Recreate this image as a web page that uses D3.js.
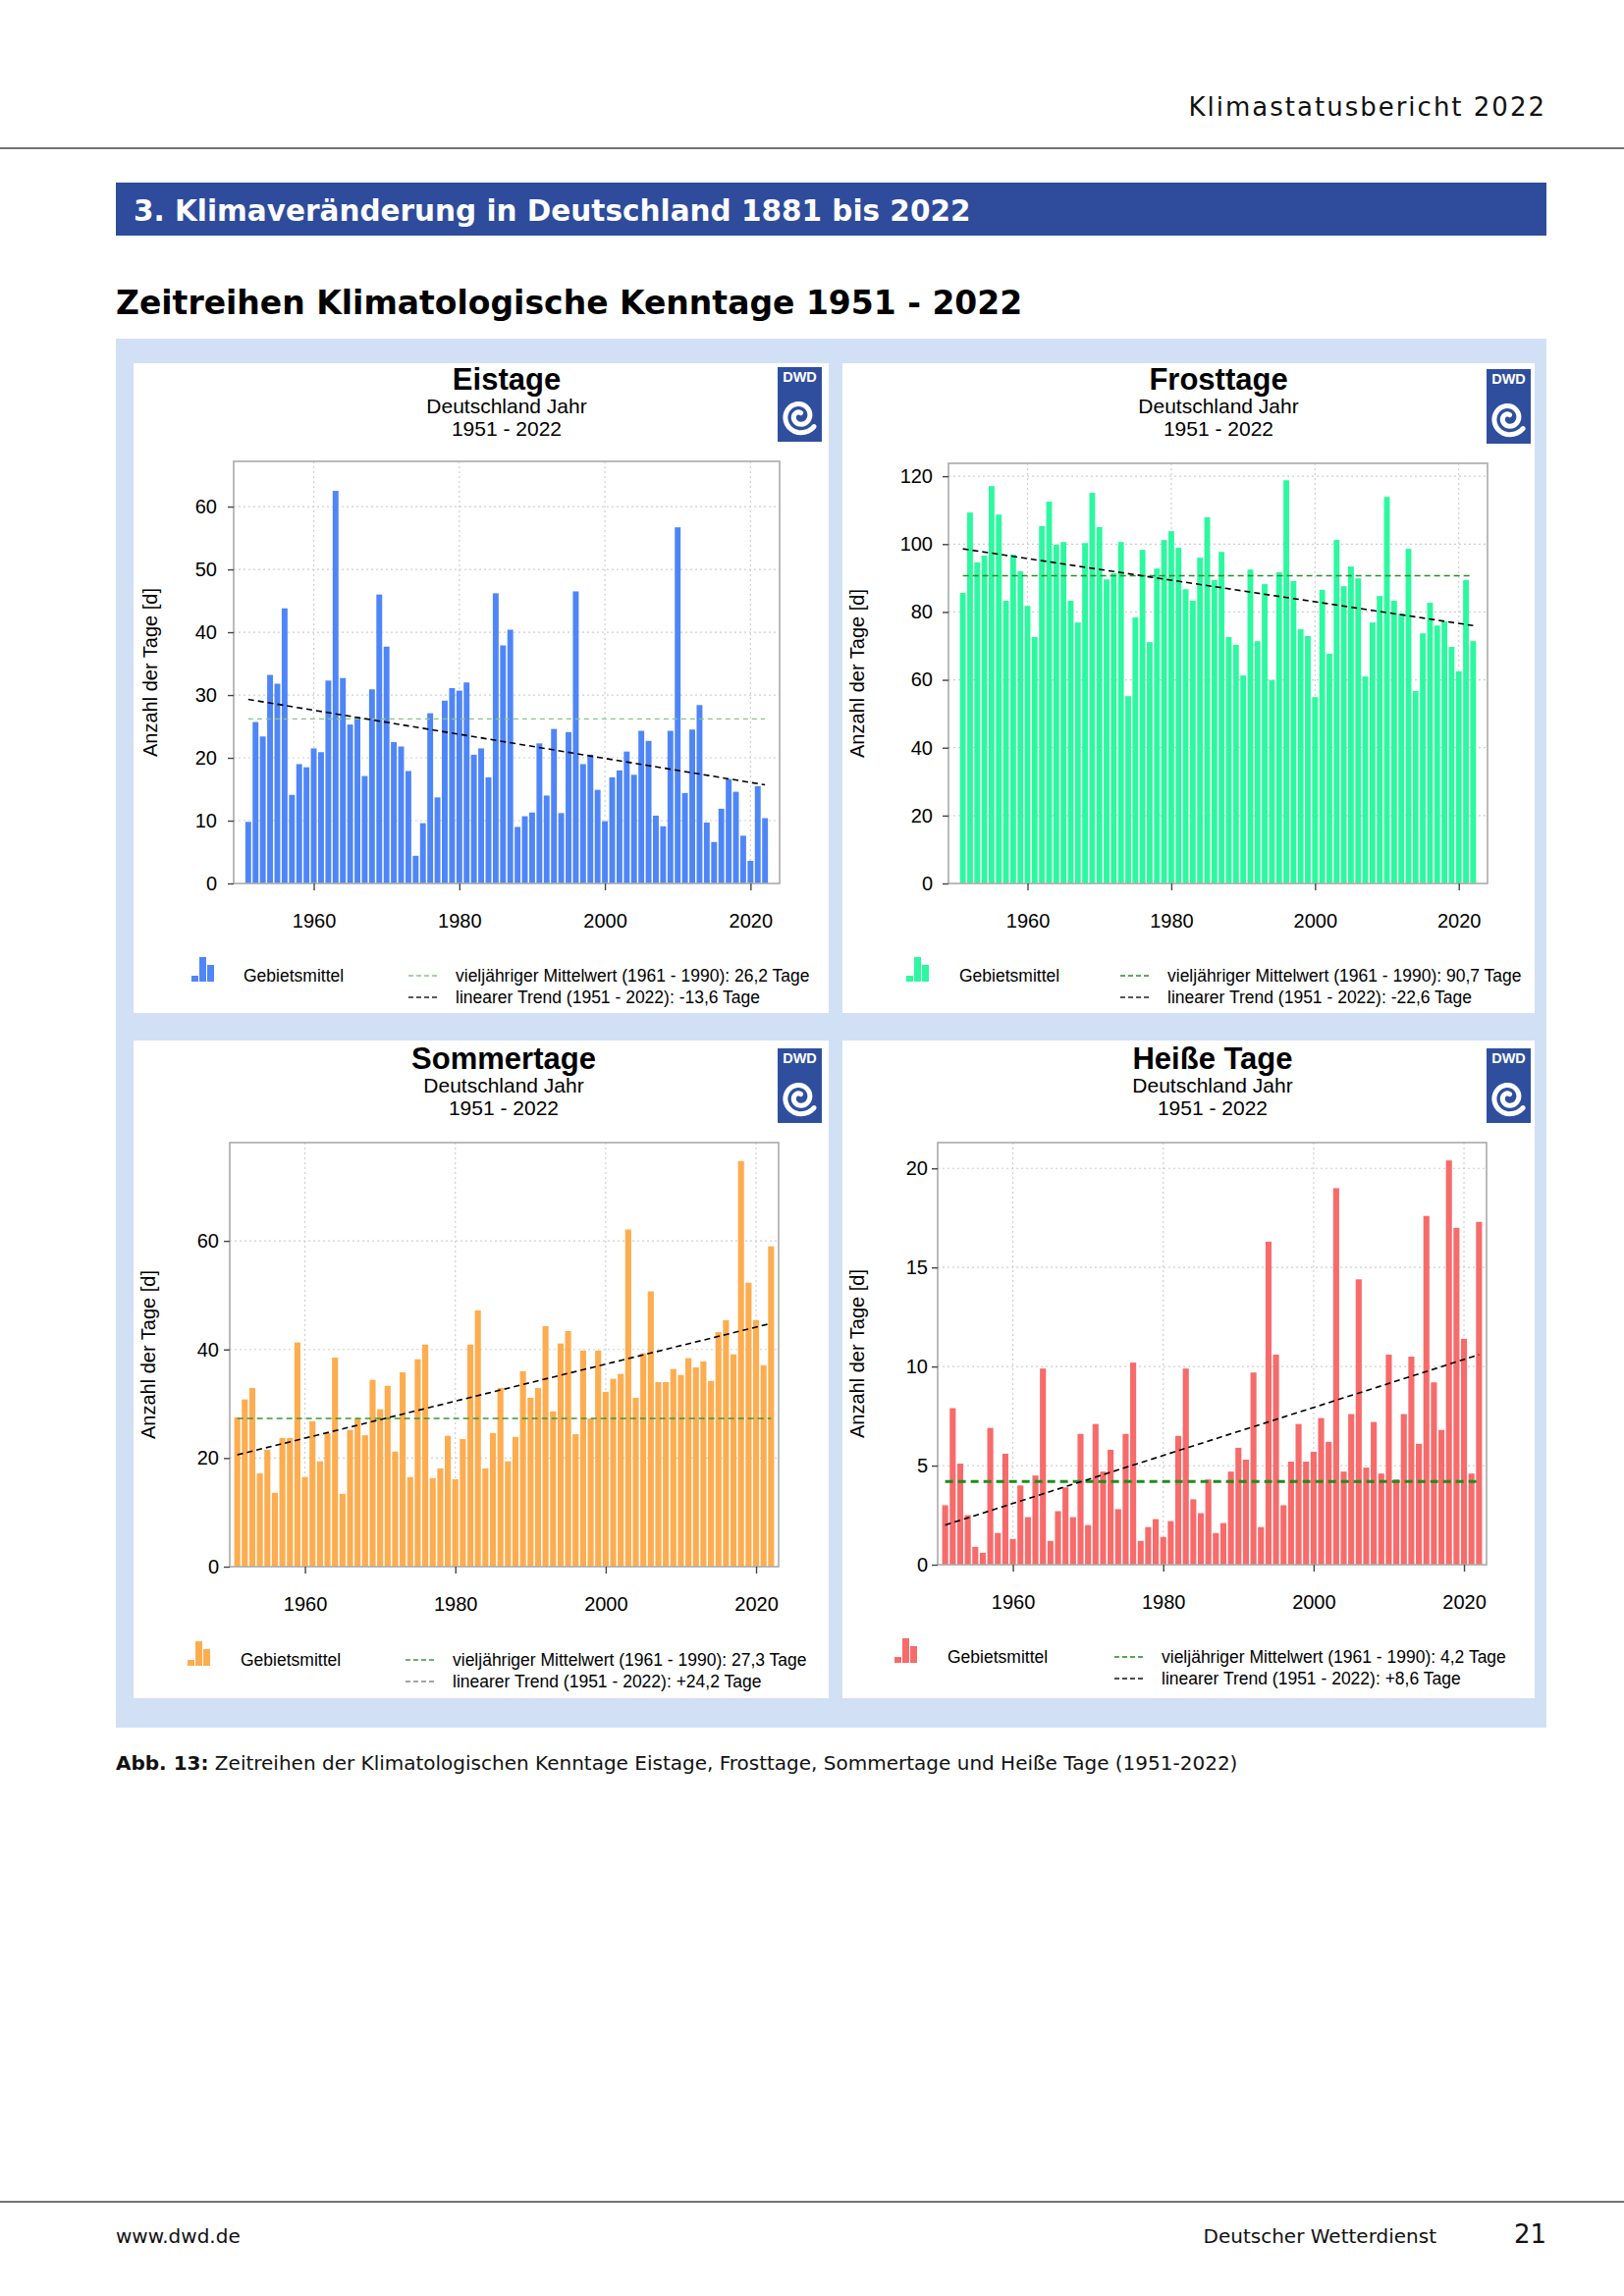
<!DOCTYPE html>
<html>
<head>
<meta charset="utf-8">
<script src="https://cdn.jsdelivr.net/npm/d3@7"></script>
<style>
  body { margin: 0; background: #fff; }
  svg { display: block; }
</style>
</head>
<body>
<div id="page"></div>
<script>
// ---- data ----
var years = d3.range(1951, 2023);

var eistage = [9.8, 25.7, 23.4, 33.2, 31.8, 43.8, 14.1, 19.0, 18.5, 21.5,
  20.9, 32.3, 62.5, 32.7, 25.3, 26.5, 17.1, 30.9, 46.0, 37.7,
  22.5, 21.8, 17.9, 4.4, 9.6, 27.1, 13.7, 29.1, 31.1, 30.7,
  32.0, 20.5, 21.5, 16.9, 46.2, 37.9, 40.4, 9.0, 10.7, 11.3,
  22.3, 14.0, 24.6, 11.2, 24.1, 46.5, 19.0, 20.5, 14.9, 9.9,
  16.9, 18.0, 21.0, 17.3, 24.3, 22.7, 10.8, 9.1, 24.3, 56.7,
  14.4, 24.5, 28.4, 9.7, 6.6, 11.9, 16.6, 14.6, 7.6, 3.6,
  15.5, 10.4];

var frosttage = [85.6, 109.3, 94.6, 96.6, 117.1, 108.7, 83.3, 96.9, 92.0, 81.8,
  72.6, 105.3, 112.5, 99.8, 100.6, 83.3, 76.9, 100.3, 115.1, 105.0,
  89.6, 91.4, 100.6, 55.2, 78.4, 98.3, 71.1, 92.8, 101.2, 103.8,
  98.9, 86.7, 83.3, 96.0, 107.9, 89.4, 97.7, 72.6, 70.3, 61.3,
  92.5, 71.4, 88.2, 59.9, 91.7, 118.8, 89.1, 74.9, 72.9, 54.9,
  86.5, 67.7, 101.2, 87.6, 93.4, 89.9, 61.0, 76.9, 84.7, 113.9,
  83.3, 79.5, 98.6, 56.7, 73.7, 82.7, 76.0, 77.2, 69.7, 62.5,
  89.4, 71.4];

var sommertage = [27.5, 30.8, 32.9, 17.2, 21.5, 13.6, 23.7, 23.7, 41.3, 16.5,
  26.8, 19.4, 24.6, 38.5, 13.4, 25.2, 27.3, 24.2, 34.4, 29.0,
  33.3, 21.2, 35.8, 16.5, 38.2, 40.9, 16.3, 18.1, 24.1, 16.1,
  23.5, 40.9, 47.2, 18.1, 24.6, 32.9, 19.4, 23.9, 36.0, 31.1,
  32.9, 44.3, 28.6, 41.1, 43.4, 24.4, 39.8, 27.3, 39.8, 32.2,
  34.6, 35.5, 62.1, 31.1, 39.3, 50.7, 34.0, 34.0, 36.4, 35.3,
  38.4, 36.7, 37.8, 34.2, 43.2, 45.4, 39.1, 74.7, 52.3, 45.4,
  37.1, 59.0];

var heisseTage = [3.0, 7.9, 5.1, 2.5, 0.9, 0.6, 6.9, 1.6, 5.6, 1.3,
  4.0, 2.4, 4.5, 9.9, 1.2, 2.7, 3.9, 2.4, 6.6, 2.0,
  7.1, 4.7, 5.8, 2.8, 6.6, 10.2, 1.2, 1.9, 2.3, 1.4,
  2.2, 6.5, 9.9, 3.3, 2.6, 4.3, 1.6, 2.1, 4.7, 5.9,
  5.3, 9.7, 1.9, 16.3, 10.6, 3.0, 5.2, 7.1, 5.2, 5.7,
  7.4, 6.2, 19.0, 4.7, 7.6, 14.4, 4.9, 7.2, 4.6, 10.6,
  4.3, 7.6, 10.5, 6.1, 17.6, 9.2, 6.8, 20.4, 17.0, 11.4,
  4.6, 17.3];

var titles = ["Eistage", "Frosttage", "Sommertage", "Heiße Tage"];
var meanValues = [26.2, 90.7, 27.3, 4.2];
var trendStart = [29.3, 98.6, 20.6, 2.0];
var trendEnd = [15.7, 76.0, 44.8, 10.6];
var meanLabels = ["26,2 Tage", "90,7 Tage", "27,3 Tage", "4,2 Tage"];
var trendLabels = ["-13,6 Tage", "-22,6 Tage", "+24,2 Tage", "+8,6 Tage"];
var xTickYears = [1960, 1980, 2000, 2020];
var yTickValues = [
  [0, 10, 20, 30, 40, 50, 60],
  [0, 20, 40, 60, 80, 100, 120],
  [0, 20, 40, 60],
  [0, 5, 10, 15, 20]
];

// ---- layout / style of the four panels ----
var panels = [
  { series: eistage, color: "#4f86f7", meanColor: "#86c486", meanWidth: 1.3, meanDash: "5,4",
    box: [136, 370, 708, 662], plot: [238, 470, 794, 900], xDom: [1949, 2024], yMax: 67.2,
    yPad: 11, cx: 516, titleY: 397, yTitleX: 153, logo: [792, 374],
    legY: 1000, icon: 195, gebiet: 248, dash: 416, legText: 464, leg2Color: "#222" },
  { series: frosttage, color: "#2cf99f", meanColor: "#2a8a2a", meanWidth: 1.5, meanDash: "6,4",
    box: [858, 370, 705, 662], plot: [966, 472, 1515, 900], xDom: [1949, 2024], yMax: 123.8,
    yPad: 10, cx: 1241, titleY: 397, yTitleX: 873, logo: [1514, 376],
    legY: 1000, icon: 923, gebiet: 977, dash: 1141, legText: 1189, leg2Color: "#222" },
  { series: sommertage, color: "#fdad50", meanColor: "#3a963a", meanWidth: 1.5, meanDash: "6,4",
    box: [136, 1060, 708, 670], plot: [234, 1164, 793, 1596], xDom: [1950, 2023], yMax: 78.1,
    yPad: 5, cx: 513, titleY: 1089, yTitleX: 151, logo: [792, 1068],
    legY: 1697, icon: 191, gebiet: 245, dash: 413, legText: 461, leg2Color: "#888" },
  { series: heisseTage, color: "#f76b6b", meanColor: "#1e8c1e", meanWidth: 3, meanDash: "8,5",
    box: [858, 1060, 705, 670], plot: [955, 1164, 1514, 1594], xDom: [1950, 2023], yMax: 21.3,
    yPad: 4, cx: 1235, titleY: 1089, yTitleX: 873, logo: [1514, 1068],
    legY: 1694, icon: 911, gebiet: 965, dash: 1135, legText: 1183, leg2Color: "#111" }
];

var chartFont = "'Liberation Sans', Arial, sans-serif";
var pageFont = "'DejaVu Sans', Verdana, sans-serif";

var svg = d3.select("#page").append("svg")
  .attr("width", 1654)
  .attr("height", 2339);

// ---- page header ----
svg.append("text")
  .attr("x", 1575).attr("y", 118)
  .attr("text-anchor", "end")
  .style("font-family", pageFont).style("font-size", "26px")
  .style("letter-spacing", "2px").attr("fill", "#111")
  .text("Klimastatusbericht 2022");

svg.append("line")
  .attr("x1", 0).attr("x2", 1654).attr("y1", 151).attr("y2", 151)
  .attr("stroke", "#444").attr("stroke-width", 1.5);

svg.append("rect")
  .attr("x", 118).attr("y", 186).attr("width", 1457).attr("height", 54)
  .attr("fill", "#2e4c9b");

svg.append("text")
  .attr("x", 136).attr("y", 225)
  .style("font-family", pageFont).style("font-size", "29.5px").style("font-weight", "bold")
  .attr("fill", "#fff")
  .text("3. Klimaveränderung in Deutschland 1881 bis 2022");

svg.append("text")
  .attr("x", 118).attr("y", 320)
  .style("font-family", pageFont).style("font-size", "33px").style("font-weight", "bold")
  .attr("fill", "#000")
  .text("Zeitreihen Klimatologische Kenntage 1951 - 2022");

// light blue frame
svg.append("rect")
  .attr("x", 118).attr("y", 345).attr("width", 1457).attr("height", 1415)
  .attr("fill", "#d2e0f5");

// ---- DWD logo ----
function drawLogo(g, x, y) {
  var w = 45, h = 76;
  g.append("rect").attr("x", x).attr("y", y).attr("width", w).attr("height", h)
    .attr("fill", "#2f4f9e");
  g.append("text").attr("x", x + w / 2).attr("y", y + 15)
    .attr("text-anchor", "middle")
    .style("font-family", chartFont).style("font-size", "14.5px").style("font-weight", "bold")
    .attr("fill", "#fff").text("DWD");
  var cx = x + w / 2, cy = y + 50;
  var pts = d3.range(0, 1.001, 0.02).map(function(t) {
    var a = Math.PI * 0.4 + t * Math.PI * 3.4;
    var r = 3.5 + t * 14.5;
    return [cx + r * Math.cos(a), cy - r * Math.sin(a)];
  });
  g.append("path").attr("d", d3.line()(pts))
    .attr("fill", "none").attr("stroke", "#fff").attr("stroke-width", 5)
    .attr("stroke-linecap", "round");
}

// ---- one chart panel ----
function drawPanel(p, i) {
  var g = svg.append("g");

  g.append("rect")
    .attr("x", p.box[0]).attr("y", p.box[1]).attr("width", p.box[2]).attr("height", p.box[3])
    .attr("fill", "#fff");

  // titles
  g.append("text").attr("x", p.cx).attr("y", p.titleY).attr("text-anchor", "middle")
    .style("font-family", chartFont).style("font-size", "31px").style("font-weight", "bold")
    .text(titles[i]);
  g.append("text").attr("x", p.cx).attr("y", p.titleY + 24).attr("text-anchor", "middle")
    .style("font-family", chartFont).style("font-size", "21px")
    .text("Deutschland Jahr");
  g.append("text").attr("x", p.cx).attr("y", p.titleY + 47).attr("text-anchor", "middle")
    .style("font-family", chartFont).style("font-size", "21px")
    .text("1951 - 2022");

  drawLogo(g, p.logo[0], p.logo[1]);

  var x = d3.scaleLinear().domain(p.xDom).range([p.plot[0], p.plot[2]]);
  var y = d3.scaleLinear().domain([0, p.yMax]).range([p.plot[3], p.plot[1]]);
  var bw = (x(1952) - x(1951)) * 0.8;

  // grid
  g.append("g").selectAll("line").data(yTickValues[i].filter(function(d) { return d > 0; }))
    .enter().append("line")
    .attr("x1", p.plot[0]).attr("x2", p.plot[2])
    .attr("y1", function(d) { return y(d); }).attr("y2", function(d) { return y(d); })
    .attr("stroke", "#cfcfcf").attr("stroke-width", 1.2).attr("stroke-dasharray", "2,3");
  g.append("g").selectAll("line").data(xTickYears)
    .enter().append("line")
    .attr("y1", p.plot[1]).attr("y2", p.plot[3])
    .attr("x1", function(d) { return x(d); }).attr("x2", function(d) { return x(d); })
    .attr("stroke", "#cfcfcf").attr("stroke-width", 1.2).attr("stroke-dasharray", "2,3");

  // bars
  g.append("g").selectAll("rect").data(p.series)
    .enter().append("rect")
    .attr("x", function(d, j) { return x(years[j]) - bw / 2; })
    .attr("width", bw)
    .attr("y", function(d) { return y(d); })
    .attr("height", function(d) { return y(0) - y(d); })
    .attr("fill", p.color);

  // mean and trend
  g.append("line")
    .attr("x1", x(years[0])).attr("x2", x(years[years.length - 1]))
    .attr("y1", y(meanValues[i])).attr("y2", y(meanValues[i]))
    .attr("stroke", p.meanColor).attr("stroke-width", p.meanWidth)
    .attr("stroke-dasharray", p.meanDash);
  g.append("line")
    .attr("x1", x(years[0])).attr("x2", x(years[years.length - 1]))
    .attr("y1", y(trendStart[i])).attr("y2", y(trendEnd[i]))
    .attr("stroke", "#000").attr("stroke-width", 1.6)
    .attr("stroke-dasharray", "6,4");

  // frame
  g.append("rect")
    .attr("x", p.plot[0]).attr("y", p.plot[1])
    .attr("width", p.plot[2] - p.plot[0]).attr("height", p.plot[3] - p.plot[1])
    .attr("fill", "none").attr("stroke", "#aaa").attr("stroke-width", 1.6);

  // axes
  var yAxis = g.append("g")
    .attr("transform", "translate(" + p.plot[0] + ",0)")
    .call(d3.axisLeft(y).tickValues(yTickValues[i]).tickSize(6).tickPadding(p.yPad));
  var xAxis = g.append("g")
    .attr("transform", "translate(0," + p.plot[3] + ")")
    .call(d3.axisBottom(x).tickValues(xTickYears).tickSize(7).tickPadding(24).tickFormat(d3.format("d")));
  [yAxis, xAxis].forEach(function(a) {
    a.select(".domain").remove();
    a.selectAll(".tick line").attr("stroke", "#444").attr("stroke-width", 1.4);
    a.selectAll("text").style("font-family", chartFont).style("font-size", "20px").attr("fill", "#000");
  });

  // y axis title
  var yMid = (p.plot[1] + p.plot[3]) / 2;
  g.append("text")
    .attr("transform", "translate(" + p.yTitleX + "," + yMid + ") rotate(-90)")
    .attr("text-anchor", "middle").attr("dy", "0.35em")
    .style("font-family", chartFont).style("font-size", "20px")
    .text("Anzahl der Tage [d]");

  // legend
  var ly = p.legY;
  var icon = g.append("g");
  [[0, 6], [8, 25], [16, 17]].forEach(function(b) {
    icon.append("rect").attr("x", p.icon + b[0]).attr("y", ly - b[1])
      .attr("width", 7).attr("height", b[1]).attr("fill", p.color);
  });
  g.append("text").attr("x", p.gebiet).attr("y", ly)
    .style("font-family", chartFont).style("font-size", "17.5px")
    .text("Gebietsmittel");

  g.append("line").attr("x1", p.dash).attr("x2", p.dash + 30)
    .attr("y1", ly - 6).attr("y2", ly - 6)
    .attr("stroke", p.meanColor).attr("stroke-width", 1.5).attr("stroke-dasharray", "5,3");
  g.append("line").attr("x1", p.dash).attr("x2", p.dash + 30)
    .attr("y1", ly + 16).attr("y2", ly + 16)
    .attr("stroke", p.leg2Color).attr("stroke-width", 1.5).attr("stroke-dasharray", "5,3");

  g.append("text").attr("x", p.legText).attr("y", ly)
    .style("font-family", chartFont).style("font-size", "17.5px")
    .text("vieljähriger Mittelwert (1961 - 1990): " + meanLabels[i]);
  g.append("text").attr("x", p.legText).attr("y", ly + 22)
    .style("font-family", chartFont).style("font-size", "17.5px")
    .text("linearer Trend (1951 - 2022): " + trendLabels[i]);
}

panels.forEach(drawPanel);

// ---- caption ----
var cap = svg.append("text")
  .attr("x", 118).attr("y", 1803)
  .style("font-family", pageFont).style("font-size", "20px").attr("fill", "#111");
cap.append("tspan").style("font-weight", "bold").text("Abb. 13:");
cap.append("tspan").text(" Zeitreihen der Klimatologischen Kenntage Eistage, Frosttage, Sommertage und Heiße Tage (1951-2022)");

// ---- footer ----
svg.append("line")
  .attr("x1", 0).attr("x2", 1654).attr("y1", 2243).attr("y2", 2243)
  .attr("stroke", "#444").attr("stroke-width", 1.5);
svg.append("text").attr("x", 118).attr("y", 2285)
  .style("font-family", pageFont).style("font-size", "20px").attr("fill", "#111")
  .text("www.dwd.de");
svg.append("text").attr("x", 1463).attr("y", 2285).attr("text-anchor", "end")
  .style("font-family", pageFont).style("font-size", "20px").attr("fill", "#111")
  .text("Deutscher Wetterdienst");
svg.append("text").attr("x", 1575).attr("y", 2285).attr("text-anchor", "end")
  .style("font-family", pageFont).style("font-size", "26px").attr("fill", "#111")
  .text("21");
</script>
</body>
</html>
